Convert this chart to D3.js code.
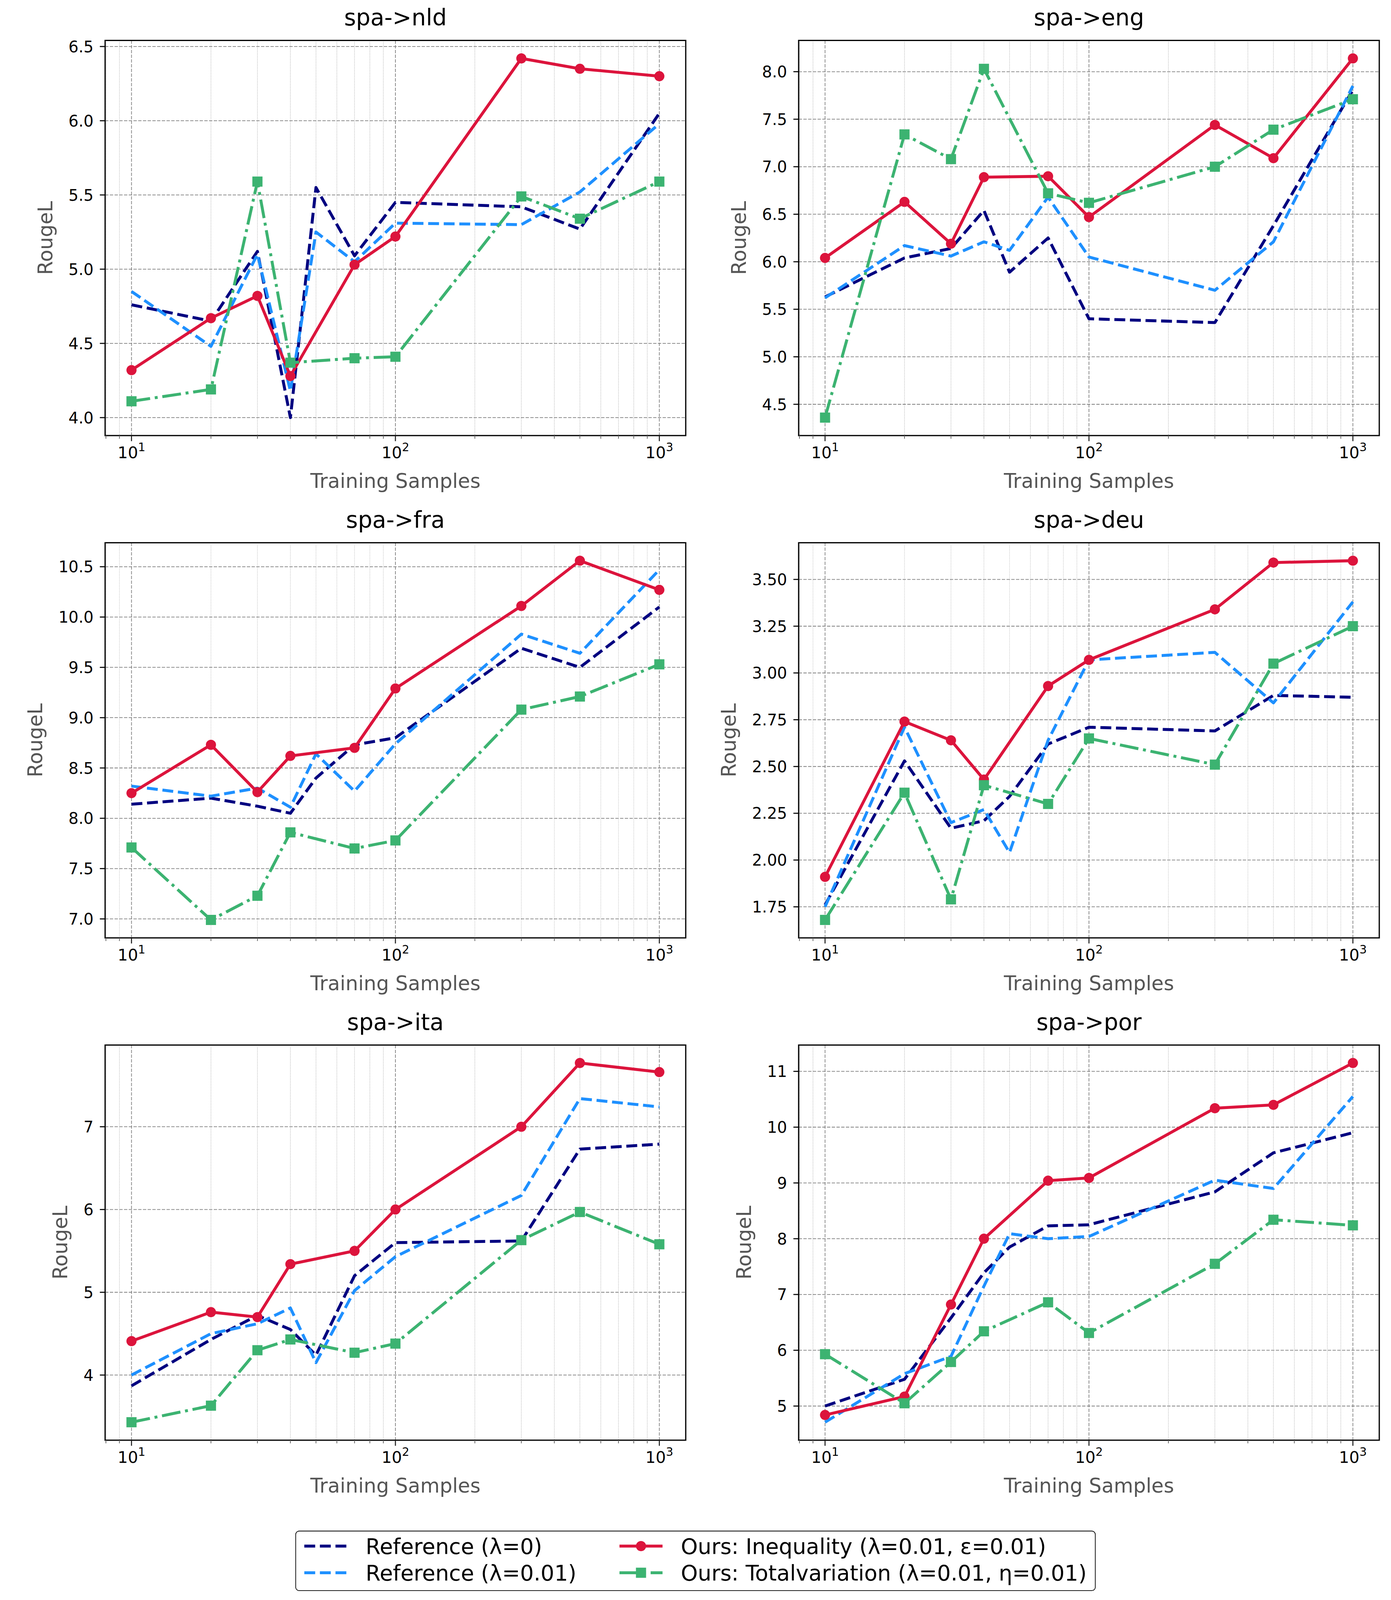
<!DOCTYPE html>
<html>
<meta charset="utf-8">
<head>
  <title>RougeL vs training samples</title>
</head>

<style>
html, body { margin: 0; padding: 0; background: white; overflow: hidden; }
svg { display: block; }
text { font-family: "DejaVu Sans", sans-serif; }
</style>

<body>
  <svg id="fig"></svg>

  <script src="https://cdnjs.cloudflare.com/ajax/libs/d3/7.8.5/d3.min.js"></script>
  <script>

// x values (reference runs have an extra point at 50)
var samplesRef = [10, 20, 30, 40, 50, 70, 100, 300, 500, 1000];
var samplesOurs = [10, 20, 30, 40, 70, 100, 300, 500, 1000];
var xTickExps = [1, 2, 3];

var seriesNames = ["Reference (λ=0)", "Reference (λ=0.01)",
                   "Ours: Inequality (λ=0.01, ε=0.01)", "Ours: Totalvariation (λ=0.01, η=0.01)"];

// spa->nld
var nldRef0   = [4.76, 4.65, 5.12, 4.00, 5.55, 5.09, 5.45, 5.42, 5.27, 6.05];
var nldRef001 = [4.85, 4.48, 5.10, 4.18, 5.25, 5.05, 5.31, 5.30, 5.52, 5.98];
var nldIneq   = [4.32, 4.67, 4.82, 4.28, 5.03, 5.22, 6.42, 6.35, 6.30];
var nldTV     = [4.11, 4.19, 5.59, 4.37, 4.40, 4.41, 5.49, 5.34, 5.59];
var nldTicks  = ["4.0", "4.5", "5.0", "5.5", "6.0", "6.5"];

// spa->eng
var engRef0   = [5.63, 6.04, 6.14, 6.54, 5.89, 6.25, 5.40, 5.36, 6.38, 7.81];
var engRef001 = [5.62, 6.17, 6.06, 6.21, 6.12, 6.68, 6.05, 5.70, 6.21, 7.85];
var engIneq   = [6.04, 6.63, 6.19, 6.89, 6.90, 6.47, 7.44, 7.09, 8.14];
var engTV     = [4.36, 7.34, 7.08, 8.03, 6.72, 6.62, 7.00, 7.39, 7.71];
var engTicks  = ["4.5", "5.0", "5.5", "6.0", "6.5", "7.0", "7.5", "8.0"];

// spa->fra
var fraRef0   = [8.14, 8.20, 8.12, 8.05, 8.40, 8.73, 8.80, 9.69, 9.50, 10.10];
var fraRef001 = [8.32, 8.22, 8.30, 8.11, 8.64, 8.27, 8.74, 9.83, 9.64, 10.47];
var fraIneq   = [8.25, 8.73, 8.26, 8.62, 8.70, 9.29, 10.11, 10.56, 10.27];
var fraTV     = [7.71, 6.99, 7.23, 7.86, 7.70, 7.78, 9.08, 9.21, 9.53];
var fraTicks  = ["7.0", "7.5", "8.0", "8.5", "9.0", "9.5", "10.0", "10.5"];

// spa->deu
var deuRef0   = [1.76, 2.53, 2.17, 2.21, 2.34, 2.62, 2.71, 2.69, 2.88, 2.87];
var deuRef001 = [1.75, 2.71, 2.20, 2.27, 2.04, 2.64, 3.07, 3.11, 2.84, 3.38];
var deuIneq   = [1.91, 2.74, 2.64, 2.43, 2.93, 3.07, 3.34, 3.59, 3.60];
var deuTV     = [1.68, 2.36, 1.79, 2.40, 2.30, 2.65, 2.51, 3.05, 3.25];
var deuTicks  = ["1.75", "2.00", "2.25", "2.50", "2.75", "3.00", "3.25", "3.50"];

// spa->ita
var itaRef0   = [3.87, 4.43, 4.72, 4.55, 4.24, 5.20, 5.60, 5.62, 6.73, 6.79];
var itaRef001 = [4.00, 4.50, 4.62, 4.81, 4.15, 5.02, 5.43, 6.17, 7.34, 7.24];
var itaIneq   = [4.41, 4.76, 4.70, 5.34, 5.50, 6.00, 7.00, 7.77, 7.66];
var itaTV     = [3.43, 3.63, 4.30, 4.43, 4.27, 4.38, 5.63, 5.97, 5.58];
var itaTicks  = ["4", "5", "6", "7"];

// spa->por
var porRef0   = [5.00, 5.48, 6.58, 7.39, 7.85, 8.23, 8.25, 8.84, 9.54, 9.90];
var porRef001 = [4.71, 5.58, 5.89, 7.15, 8.09, 8.00, 8.04, 9.05, 8.90, 10.55];
var porIneq   = [4.84, 5.17, 6.82, 8.00, 9.04, 9.09, 10.34, 10.40, 11.15];
var porTV     = [5.93, 5.05, 5.79, 6.34, 6.86, 6.31, 7.55, 8.34, 8.24];
var porTicks  = ["5", "6", "7", "8", "9", "10", "11"];

var panels = [
  {title: "spa->nld", series: [nldRef0, nldRef001, nldIneq, nldTV], ticks: nldTicks},
  {title: "spa->eng", series: [engRef0, engRef001, engIneq, engTV], ticks: engTicks},
  {title: "spa->fra", series: [fraRef0, fraRef001, fraIneq, fraTV], ticks: fraTicks},
  {title: "spa->deu", series: [deuRef0, deuRef001, deuIneq, deuTV], ticks: deuTicks},
  {title: "spa->ita", series: [itaRef0, itaRef001, itaIneq, itaTV], ticks: itaTicks},
  {title: "spa->por", series: [porRef0, porRef001, porIneq, porTV], ticks: porTicks}
];

// the figure is laid out for 3560x5106; vertical positions are squeezed
// to whatever height the window really gives us
var W = 3560;
var H = Math.min(5106, window.innerHeight || 5106);
var sy = H / 5106;
var fsc = Math.sqrt(sy);          // fonts / strokes / markers
function Y(v) { return v * sy; }
function S(v) { return v * fsc; }

// styles
var colors = ["#000080", "#1e90ff", "#dc143c", "#3cb371"];
var lw = S(8.4);
var dashes = [[3.7, 1.6], [3.7, 1.6], null, [6.4, 1.6, 1, 1.6]].map(function(d) {
  return d ? d.map(function(v) { return v * lw; }).join(",") : null;
});
var markers = [null, null, "circle", "square"];

var colLeft = [269, 2044], rowTop = [129, 1732, 3335].map(Y);
var axW = 1486, axH = Y(1261);

var svg = d3.select("#fig").attr("width", W).attr("height", H);
svg.append("rect").attr("width", W).attr("height", H).attr("fill", "white");

function drawMarker(sel, kind, color) {
  var r = S(14.5);
  if (kind == "circle") {
    sel.append("circle").attr("r", r).attr("fill", color);
  } else if (kind == "square") {
    sel.append("rect").attr("x", -r).attr("y", -r)
      .attr("width", 2 * r).attr("height", 2 * r).attr("fill", color);
  }
}

panels.forEach(function(p, i) {
  var left = colLeft[i % 2], top = rowTop[Math.floor(i / 2)];
  var g = svg.append("g").attr("transform", "translate(" + left + "," + top + ")");

  var x = d3.scaleLog().domain([Math.pow(10, 0.9), Math.pow(10, 3.1)]).range([0, axW]);
  var all = d3.merge(p.series);
  var lo = d3.min(all), hi = d3.max(all), pad = (hi - lo) * 0.05;
  var y = d3.scaleLinear().domain([lo - pad, hi + pad]).range([axH, 0]);

  var xt = x.ticks();
  var isMajor = function(v) { return Math.abs(Math.log10(v) - Math.round(Math.log10(v))) < 1e-9; };
  var minors = xt.filter(function(v) { return !isMajor(v); });
  var majors = xt.filter(isMajor);

  // minor grid (vertical only)
  g.selectAll(".mgrid").data(minors).enter().append("line")
    .attr("x1", function(d) { return x(d); }).attr("x2", function(d) { return x(d); })
    .attr("y1", 0).attr("y2", axH)
    .attr("stroke", "#999").attr("stroke-width", 1.4).attr("stroke-dasharray", "1.4,2.6");

  // major grid
  var gdash = S(9.5) + "," + S(4);
  g.selectAll(".vgrid").data(majors).enter().append("line")
    .attr("x1", function(d) { return x(d); }).attr("x2", function(d) { return x(d); })
    .attr("y1", 0).attr("y2", axH)
    .attr("stroke", "#808080").attr("stroke-width", S(2)).attr("stroke-dasharray", gdash);
  g.selectAll(".hgrid").data(p.ticks).enter().append("line")
    .attr("x1", 0).attr("x2", axW)
    .attr("y1", function(d) { return y(+d); }).attr("y2", function(d) { return y(+d); })
    .attr("stroke", "#808080").attr("stroke-width", S(2)).attr("stroke-dasharray", gdash);

  // series: navy, blue, red, green (green on top)
  p.series.forEach(function(vals, k) {
    var xs = vals.length == samplesRef.length ? samplesRef : samplesOurs;
    var pts = vals.map(function(v, j) { return [xs[j], v]; });
    var line = d3.line().x(function(d) { return x(d[0]); }).y(function(d) { return y(d[1]); });
    g.append("path").datum(pts).attr("d", line)
      .attr("fill", "none").attr("stroke", colors[k]).attr("stroke-width", lw)
      .attr("stroke-linejoin", "round")
      .attr("stroke-dasharray", dashes[k]);
    if (markers[k]) {
      var m = g.selectAll(".m" + k).data(pts).enter().append("g")
        .attr("transform", function(d) { return "translate(" + x(d[0]) + "," + y(d[1]) + ")"; });
      drawMarker(m, markers[k], colors[k]);
    }
  });

  // spines
  g.append("rect").attr("width", axW).attr("height", axH)
    .attr("fill", "none").attr("stroke", "black").attr("stroke-width", S(3.5));

  // y ticks
  g.selectAll(".yt").data(p.ticks).enter().append("line")
    .attr("x1", -S(15)).attr("x2", 0)
    .attr("y1", function(d) { return y(+d); }).attr("y2", function(d) { return y(+d); })
    .attr("stroke", "black").attr("stroke-width", S(3));
  var ylabs = g.selectAll(".yl").data(p.ticks).enter().append("text")
    .attr("x", -S(33)).attr("y", function(d) { return y(+d); })
    .attr("dy", "0.36em").attr("text-anchor", "end")
    .attr("font-size", S(45)).attr("fill", "black")
    .text(function(d) { return d; });
  var maxW = 0;
  ylabs.each(function() { maxW = Math.max(maxW, this.getComputedTextLength()); });

  // x ticks
  g.selectAll(".xm").data(minors).enter().append("line")
    .attr("x1", function(d) { return x(d); }).attr("x2", function(d) { return x(d); })
    .attr("y1", axH).attr("y2", axH + S(9))
    .attr("stroke", "#666").attr("stroke-width", S(2.2));
  g.selectAll(".xt").data(xTickExps).enter().append("line")
    .attr("x1", function(d) { return x(Math.pow(10, d)); }).attr("x2", function(d) { return x(Math.pow(10, d)); })
    .attr("y1", axH).attr("y2", axH + S(16))
    .attr("stroke", "#222").attr("stroke-width", S(3));
  var xl = g.selectAll(".xl").data(xTickExps).enter().append("text")
    .attr("x", function(d) { return x(Math.pow(10, d)); }).attr("y", axH + Y(72))
    .attr("text-anchor", "middle").attr("font-size", S(46)).attr("fill", "black");
  xl.append("tspan").text("10");
  xl.append("tspan").attr("dy", -S(20)).attr("font-size", S(33)).text(function(d) { return d; });

  // title and axis labels
  g.append("text").attr("x", axW / 2).attr("y", -Y(48))
    .attr("text-anchor", "middle").attr("font-size", S(65)).attr("fill", "black")
    .text(p.title);
  g.append("text").attr("x", axW / 2).attr("y", axH + Y(167))
    .attr("text-anchor", "middle").attr("font-size", S(57)).attr("fill", "#555")
    .text("Training Samples");
  var ylx = -S(33) - maxW - S(66);
  g.append("text")
    .attr("transform", "translate(" + ylx + "," + (axH / 2) + ") rotate(-90)")
    .attr("text-anchor", "middle").attr("dominant-baseline", "central")
    .attr("font-size", S(57)).attr("fill", "#555")
    .text("RougeL");
});

// legend: two columns, filled column-wise, centred under the panels
var fs = 58 * Math.max(0.95, fsc), handleLen = 2 * fs, textGap = 0.85 * fs, colGap = 2 * fs, padX = 0.4 * fs;
var boxTop = Y(4886), boxH = Y(190), rowY = [Y(4934), Y(5019)];
var lg = svg.append("g");
var box = lg.append("rect").attr("y", boxTop).attr("height", boxH).attr("rx", S(10))
  .attr("fill", "white").attr("stroke", "black").attr("stroke-width", S(2));

var labels = seriesNames.map(function(s) {
  return lg.append("text").attr("font-size", fs).attr("fill", "black").attr("dy", "0.36em").text(s);
});
var w = labels.map(function(t) { return t.node().getComputedTextLength(); });
var col2 = handleLen + textGap + Math.max(w[0], w[1]) + colGap;
var total = col2 + handleLen + textGap + Math.max(w[2], w[3]) + 2 * padX;
var boxLeft = 1780 - total / 2;
box.attr("x", boxLeft).attr("width", total);
var hx = [boxLeft + padX, boxLeft + padX, boxLeft + padX + col2, boxLeft + padX + col2];

seriesNames.forEach(function(s, k) {
  var yy = rowY[k % 2];
  lg.append("line").attr("x1", hx[k]).attr("x2", hx[k] + handleLen)
    .attr("y1", yy).attr("y2", yy)
    .attr("stroke", colors[k]).attr("stroke-width", lw)
    .attr("stroke-dasharray", dashes[k]);
  if (markers[k]) {
    var m = lg.append("g").attr("transform", "translate(" + (hx[k] + handleLen / 2) + "," + yy + ")");
    drawMarker(m, markers[k], colors[k]);
  }
  labels[k].attr("x", hx[k] + handleLen + textGap).attr("y", yy);
});

  </script>
</body>
</html>
